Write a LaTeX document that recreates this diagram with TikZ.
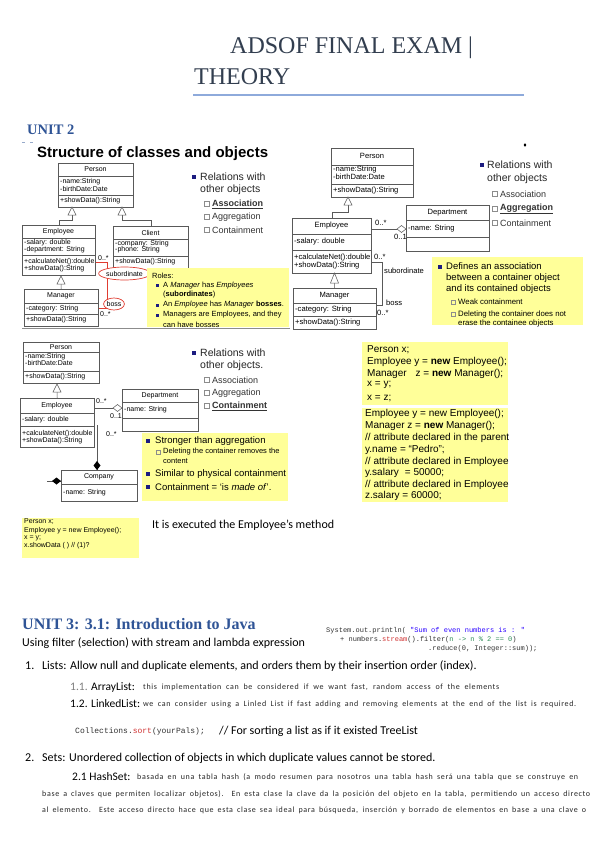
\documentclass[tikz,border=0pt]{standalone}
\usepackage{fontspec}
\setmainfont{Carlito}
\newfontfamily\arial{Liberation Sans}
\newfontfamily\serifT{Liberation Serif}
\newfontfamily\mono{Liberation Mono}
\newfontfamily\spc[LetterSpace=8]{Carlito}
\usetikzlibrary{shapes.geometric}
\definecolor{slideyellow}{HTML}{FFFF99}
\definecolor{titlecol}{HTML}{323E4F}
\definecolor{headblue}{HTML}{2F5496}
\definecolor{ruleblue}{HTML}{8EAADB}
\definecolor{navy}{HTML}{1C1C80}
\definecolor{umlred}{HTML}{E03C31}
\definecolor{strblue}{HTML}{2A00FF}
\definecolor{kwred}{HTML}{D03030}
\definecolor{lamgreen}{HTML}{2E8B57}
\definecolor{txtgray}{HTML}{7F7F7F}
\definecolor{smallgray}{HTML}{262626}
\newcommand\fs[2]{\fontsize{#1}{#2}\selectfont}
\newcommand\spread[2]{\makebox[#1][s]{#2}}
\newcommand\umlclass[7]{%
  \node[umlbox, minimum width={(#4-#2)*1pt}, minimum height={(#5-#3)*1pt}] (#1) at (#2,#3) {};
  \draw[umlline] (#2,#6) -- (#4,#6);
  \draw[umlline] (#2,#7) -- (#4,#7);}
\newcommand\inhtri[3]{\draw[umlline, fill=white] (#1,#2) -- (#1-4,#3) -- (#1+4,#3) -- cycle;}
\tikzset{
  umlline/.style={draw=black!65, line width=0.5pt},
  umlbox/.style={umlline, anchor=north west, inner sep=0, fill=white},
  ut/.style={anchor=west, inner sep=0, font=\arial\fs{7}{8}},
  un/.style={inner sep=0, font=\arial\fs{7}{8}},
  utb/.style={anchor=west, inner sep=0, font=\arial\fs{7.6}{8}},
  unb/.style={inner sep=0, font=\arial\fs{7.6}{8}},
  ybox/.style={fill=slideyellow, draw=none, anchor=north west, inner sep=0},
  bul/.style={fill=navy, minimum size=4pt, inner sep=0},
  sbul/.style={fill=navy, minimum size=3pt, inner sep=0},
  sq/.style={draw=black!45, line width=0.4pt, minimum size=5pt, inner sep=0},
  ssq/.style={draw=black!45, line width=0.4pt, minimum size=4pt, inner sep=0},
  rel/.style={anchor=west, inner sep=0, font=\arial\fs{10.5}{12}, text=black!85},
  relsub/.style={anchor=west, inner sep=0, font=\arial\fs{9}{10}, text=black!80},
  ytxt/.style={anchor=west, inner sep=0, font=\arial\fs{7.5}{9}},
  ytxtb/.style={anchor=west, inner sep=0, font=\arial\fs{9.5}{11}},
  ytxts/.style={anchor=west, inner sep=0, font=\arial\fs{7.8}{9}},
  codeA/.style={anchor=west, inner sep=0, font=\arial\fs{10}{12}},
  body/.style={anchor=west, inner sep=0, font=\fs{12}{14}},
  lab/.style={anchor=west, inner sep=0, font=\fs{11.5}{14}},
  small/.style={anchor=west, inner sep=0, font=\spc\fs{8}{9}, text=smallgray},
  mcode/.style={anchor=west, inner sep=0, font=\mono\fs{7}{8}, text=black!80},
}
\begin{document}
\begin{tikzpicture}[x=1pt,y=-1pt]
\useasboundingbox (0,0) rectangle (599,848);
\fill[white] (0,0) rectangle (599,848);

% ---------- Title ----------
\node[anchor=base west, inner sep=0, font=\serifT\fs{24}{28}, text=titlecol] (t1) at (230,54) {ADSOF FINAL EXAM |};
\node[anchor=base west, inner sep=0, font=\serifT\fs{24}{28}, text=titlecol] (t2) at (194,85) {THEORY};
\draw[ruleblue, line width=1.2pt] (193,95) -- (524,95);
\node[anchor=base west, inner sep=0, font=\serifT\bfseries\fs{14.5}{16}, text=headblue] (u2) at (27,135) {UNIT 2};
\draw[headblue!50, line width=0.6pt] (22,142) -- (25,142) (30,142) -- (33,142);

% ---------- Slide 1 ----------
\node[anchor=west, inner sep=0, font=\arial\bfseries\fs{15}{17}] (s1title) at (37,154) {Structure of classes and objects};
\umlclass{pA}{58}{163}{133}{207}{176}{195}
\node[un] (pAn) at (95.5,169.5) {Person};
\node[ut] (pA1) at (60,182) {-name:String};
\node[ut] (pA2) at (60,188.5) {-birthDate:Date};
\node[ut] (pA3) at (60,201) {+showData():String};
\umlclass{eA}{22}{225}{95}{275}{238}{255}
\node[un] (eAn) at (58.5,232) {Employee};
\node[ut] (eA1) at (24,243) {-salary: double};
\node[ut] (eA2) at (24,249.5) {-department: String};
\node[ut] (eA3) at (24,261.5) {+calculateNet():double};
\node[ut] (eA4) at (24,268.5) {+showData():String};
\umlclass{cA}{113}{226}{188}{272}{239}{256}
\node[un] (cAn) at (150.5,233) {Client};
\node[ut] (cA1) at (115,244) {-company: String};
\node[ut] (cA2) at (115,250) {-phone: String};
\node[ut] (cA3) at (115,262) {+showData():String};
\draw[umlline] (eA.north) |- (72,220) -- (72,215);
\inhtri{72}{207}{215}
\draw[umlline] (cA.north) |- (122,220) -- (122,215);
\inhtri{122}{207}{215}
\umlclass{mA}{24}{289}{98}{326}{303}{314}
\node[un] (mAn) at (61,296) {Manager};
\node[ut] (mA1) at (26,308.5) {-category: String};
\node[ut] (mA2) at (26,320) {+showData():String};
\draw[umlline] (mA.north) -- (61,284);
\inhtri{61}{276}{284}
\draw[umlred, line width=0.8pt] (eA.east |- 0,262) -- (107,262) -- (107,308) -- (mA.east |- 0,308);
\node[ut] (lA1) at (98,258) {0..*};
\node[ut] (lA2) at (100,314) {0..*};
\node[draw=umlred, line width=0.7pt, ellipse, inner sep=0, minimum width=43pt, minimum height=13pt, font=\arial\fs{7}{8}, fill=white] (subA) at (124.5,273.5) {subordinate};
\node[draw=umlred, line width=0.7pt, ellipse, inner sep=0, minimum width=19pt, minimum height=12pt, font=\arial\fs{7}{8}, fill=white] (bossA) at (114,304) {boss};
% Roles box
\node[ybox, minimum width=142pt, minimum height=59pt] (roles) at (147,268) {};
\begin{scope}
\clip (147,268) rectangle (289,327);
\node[ytxt] (r0) at (152,275.5) {Roles:};
\node[sbul] (rb1) at (157,285.5) {};
\node[ytxt] (r1) at (163,285.5) {A \textit{Manager} has \textit{Employees}};
\node[ytxt] (r2) at (163,294.5) {(\textbf{subordinates})};
\node[sbul] (rb2) at (157,305) {};
\node[ytxt] (r3) at (163,305) {An \textit{Employee} has \textit{Manager} \textbf{bosses}.};
\node[sbul] (rb3) at (157,315) {};
\node[ytxt] (r4) at (163,315) {Managers are Employees, and they};
\node[ytxt] (r5) at (163,324.5) {can have bosses};
\end{scope}
% relations 1
\node[bul] (q1) at (193.5,177) {};
\node[rel] (q1a) at (200,177) {Relations with};
\node[rel] (q1b) at (200,190) {other objects};
\node[sq] (q1s1) at (207,204) {};
\node[relsub] (q1t1) at (212,204) {\textbf{\underline{Association}}};
\node[sq] (q1s2) at (207,217) {};
\node[relsub] (q1t2) at (212,217) {Aggregation};
\node[sq] (q1s3) at (207,230) {};
\node[relsub] (q1t3) at (212,230) {Containment};
\draw[black!45, line width=1pt] (22,328.5) -- (290,328.5);

% ---------- Slide 2 ----------
\fill[black] (525,145) ellipse [x radius=1.3, y radius=1.8];
\umlclass{pB}{331}{148}{413}{197}{165}{184}
\node[unb] (pBn) at (372,156) {Person};
\node[utb] (pB1) at (333,170) {-name:String};
\node[utb] (pB2) at (333,177) {-birthDate:Date};
\node[utb] (pB3) at (333,190.5) {+showData():String};
\umlclass{eB}{292}{218}{371}{273}{234}{250}
\node[unb] (eBn) at (331.5,226) {Employee};
\node[utb] (eB1) at (294,242) {-salary: double};
\node[utb] (eB2) at (294,257.5) {+calculateNet():double};
\node[utb] (eB3) at (294,266) {+showData():String};
\draw[umlline] (eB.north) |- (348,212) -- (348,205);
\inhtri{348}{197}{205}
\umlclass{dB}{406}{205}{489}{251}{220}{237}
\node[unb] (dBn) at (447.5,212.5) {Department};
\node[utb] (dB1) at (408,228.5) {-name: String};
\draw[umlline] (eB.east |- 0,229) -- (dB.west |- 0,229);
\draw[umlline, fill=white] (397,229) -- (401.5,225.5) -- (406,229) -- (401.5,232.5) -- cycle;
\node[utb] (lB1) at (375,223) {0..*};
\node[utb] (lB2) at (394,237) {0..1};
\umlclass{mB}{293}{288}{376}{329}{303}{316}
\node[unb] (mBn) at (334.5,295.5) {Manager};
\node[utb] (mB1) at (295,310) {-category: String};
\node[utb] (mB2) at (295,322.5) {+showData():String};
\draw[umlline] (mB.north) -- (334.5,283);
\inhtri{334.5}{273}{283}
\draw[umlline] (eB.east |- 0,262) -- (382,262) -- (382,305) -- (mB.east |- 0,305);
\node[utb] (lB3) at (374,257) {0..*};
\node[utb] (lB4) at (384,271) {subordinate};
\node[utb] (lB5) at (386,303) {boss};
\node[utb] (lB6) at (377,313) {0..*};
\node[bul] (q2) at (482,165) {};
\node[rel] (q2a) at (487,165) {Relations with};
\node[rel] (q2b) at (487,179) {other objects};
\node[sq] (q2s1) at (495,194) {};
\node[relsub] (q2t1) at (500,194) {Association};
\node[sq] (q2s2) at (495,209) {};
\node[relsub] (q2t2) at (500,209) {\textbf{\underline{Aggregation}}};
\node[sq] (q2s3) at (495,223) {};
\node[relsub] (q2t3) at (500,223) {Containment};
\node[ybox, minimum width=151pt, minimum height=68pt] (defbox) at (432,257) {};
\node[bul] (d0) at (440,266.5) {};
\node[ytxtb] (d1) at (446,266.5) {Defines an association};
\node[ytxtb] (d2) at (446,278) {between a container object};
\node[ytxtb] (d3) at (446,289.5) {and its contained objects};
\node[ssq] (ds1) at (453,302) {};
\node[ytxts] (d4) at (458,302) {Weak containment};
\node[ssq] (ds2) at (453,314) {};
\node[ytxts] (d5) at (458,314) {Deleting the container does not};
\node[ytxts] (d6) at (458,323) {erase the containee objects};

% ---------- Slide 3 ----------
\umlclass{pC}{23}{342}{99}{383}{352}{371}
\node[un] (pCn) at (61,347) {Person};
\node[ut] (pC1) at (25,357) {-name:String};
\node[ut] (pC2) at (25,363) {-birthDate:Date};
\node[ut] (pC3) at (25,377) {+showData():String};
\umlclass{eC}{20}{398}{94}{447}{413}{426}
\node[un] (eCn) at (57,405.5) {Employee};
\node[ut] (eC1) at (22,419.5) {-salary: double};
\node[ut] (eC2) at (22,433.5) {+calculateNet():double};
\node[ut] (eC3) at (22,441) {+showData():String};
\draw[umlline] (eC.north) -- (57,392);
\inhtri{57}{384}{392}
\umlclass{dC}{122}{389}{198}{431}{402}{418}
\node[un] (dCn) at (160,396) {Department};
\node[ut] (dC1) at (124,410) {-name: String};
\draw[umlline] (eC.east |- 0,408) -- (dC.west |- 0,408);
\draw[umlline, fill=white] (113,408) -- (117.5,404.5) -- (122,408) -- (117.5,411.5) -- cycle;
\node[ut] (lC1) at (96,401) {0..*};
\node[ut] (lC2) at (110,416) {0..1};
\node[ut] (lC3) at (106,434) {0..*};
\umlclass{cC}{61}{470}{137}{501}{484}{484}
\node[un] (cCn) at (99,477) {Company};
\node[ut] (cC1) at (63,493) {-name: String};
\coordinate (cstart) at (97,425);
\draw[umlline] (cstart) -- (cC.north -| 97,0);
\fill[black] (97,461) -- (100.5,465.5) -- (97,470) -- (93.5,465.5) -- cycle;
\coordinate (cleft) at (47,481);
\draw[umlline] (cleft) -- (cC.west |- 0,481);
\fill[black] (52,481) -- (56.5,477.5) -- (61,481) -- (56.5,484.5) -- cycle;
\node[bul] (q3) at (193.5,353) {};
\node[rel] (q3a) at (200,353) {Relations with};
\node[rel] (q3b) at (200,366) {other objects.};
\node[sq] (q3s1) at (207,380) {};
\node[relsub] (q3t1) at (212,380) {Association};
\node[sq] (q3s2) at (207,393) {};
\node[relsub] (q3t2) at (212,393) {Aggregation};
\node[sq] (q3s3) at (207,406) {};
\node[relsub] (q3t3) at (212,406) {\textbf{\underline{Containment}}};
\node[ybox, minimum width=146pt, minimum height=68pt] (strbox) at (142,433) {};
\node[bul] (g0) at (147.5,441) {};
\node[ytxtb] (g1) at (155,441) {Stronger than aggregation};
\node[ssq] (gs1) at (158,452) {};
\node[ytxt] (g2) at (163,452) {Deleting the container removes the};
\node[ytxt] (g3) at (163,461.5) {content};
\node[bul] (g4) at (147.5,474) {};
\node[ytxtb] (g5) at (155,474) {Similar to physical containment};
\node[bul] (g6) at (147.5,487) {};
\node[ytxtb] (g7) at (155,487) {Containment = ‘is \textit{made of}’.};

% ---------- code boxes ----------
\node[ybox, minimum width=117pt, minimum height=40pt] (cb1) at (22,518) {};
\node[anchor=west, inner sep=0, font=\arial\fs{7}{8}] (cb1a) at (24,522) {Person x;};
\node[anchor=west, inner sep=0, font=\arial\fs{7}{8}] (cb1b) at (24,530.5) {Employee y = new Employee();};
\node[anchor=west, inner sep=0, font=\arial\fs{7}{8}] (cb1c) at (24,538) {x = y;};
\node[anchor=west, inner sep=0, font=\arial\fs{7}{8}] (cb1d) at (24,546) {x.showData ( ) // (1)?};
\node[body] (exec) at (152,525) {It is executed the Employee’s method};

\node[ybox, minimum width=146pt, minimum height=63pt] (cbA) at (362,342) {};
\node[codeA] (cA1t) at (367,350) {Person x;};
\node[codeA] (cA2t) at (367,362) {Employee y = \textbf{new} Employee();};
\node[codeA] (cA3t) at (367,373.5) {Manager\hspace{9pt}z = \textbf{new} Manager();};
\node[codeA] (cA4t) at (367,385) {x = y;};
\node[codeA] (cA5t) at (367,398) {x = z;};
\node[ybox, minimum width=146pt, minimum height=94pt] (cbB) at (362,408) {};
\node[codeA] (cB1t) at (365,414) {Employee y = new Employee();};
\node[codeA] (cB2t) at (365,426) {Manager z = \textbf{new} Manager();};
\node[codeA] (cB3t) at (365,438) {// attribute declared in the parent};
\node[codeA] (cB4t) at (365,450) {y.name = “Pedro”;};
\node[codeA] (cB5t) at (365,461.5) {// attribute declared in Employee};
\node[codeA] (cB6t) at (365,473) {y.salary\hspace{6pt}= 50000;};
\node[codeA] (cB7t) at (365,484.5) {// attribute declared in Employee};
\node[codeA] (cB8t) at (365,496) {z.salary = 60000;};

% ---------- Unit 3 ----------
\node[anchor=base west, inner sep=0, font=\serifT\bfseries\fs{16}{18}, text=headblue] (u3) at (22,629) {UNIT 3: 3.1: Introduction to Java};
\node[body] (u3s) at (22,643) {Using filter (selection) with stream and lambda expression};
\node[mcode] (j1) at (326,631) {System.out.println( \textcolor{strblue}{"Sum of even numbers is : "}};
\node[mcode] (j2) at (340,640) {+ numbers.\textcolor{kwred}{stream}().filter(\textcolor{lamgreen}{n -> n \% 2 == 0})};
\node[mcode] (j3) at (428,649) {.reduce(0, Integer::sum));};

\node[body] (n1) at (25,666) {1.};
\node[body] (n1t) at (42,666) {Lists: Allow null and duplicate elements, and orders them by their insertion order (index).};
\node[lab, text=txtgray] (n11) at (70,687) {1.1.};
\node[lab] (n11a) at (91,687) {ArrayList:};
\node[small] (n11b) at (143,687) {\spread{356pt}{this implementation can be considered if we want fast, random access of the elements}};
\node[lab] (n12) at (70,704) {1.2.};
\node[lab] (n12a) at (91,704) {LinkedList:};
\node[small] (n12b) at (143,704) {\spread{433pt}{we can consider using a Linled List if fast adding and removing elements at the end of the list is required.}};
\node[anchor=west, inner sep=0, font=\mono\fs{8}{9}, text=black!80] (srt) at (75,731) {Collections.\textcolor{kwred}{sort}(yourPals);};
\node[body] (srtc) at (219,731) {// For sorting a list as if it existed TreeList};
\node[body] (n2) at (25,758) {2.};
\node[body] (n2t) at (42,758) {Sets: Unordered collection of objects in which duplicate values cannot be stored.};
\node[lab] (n21) at (72,777) {2.1 HashSet:};
\node[small] (n21b) at (137,777) {\spread{441pt}{basada en una tabla hash (a modo resumen para nosotros una tabla hash será una tabla que se construye en}};
\node[small] (n22) at (42,794) {\spread{548pt}{base a claves que permiten localizar objetos). En esta clase la clave da la posición del objeto en la tabla, permitiendo un acceso directo}};
\node[small] (n23) at (42,810) {\spread{544pt}{al elemento. Este acceso directo hace que esta clase sea ideal para búsqueda, inserción y borrado de elementos en base a una clave o}};
\end{tikzpicture}
\end{document}
